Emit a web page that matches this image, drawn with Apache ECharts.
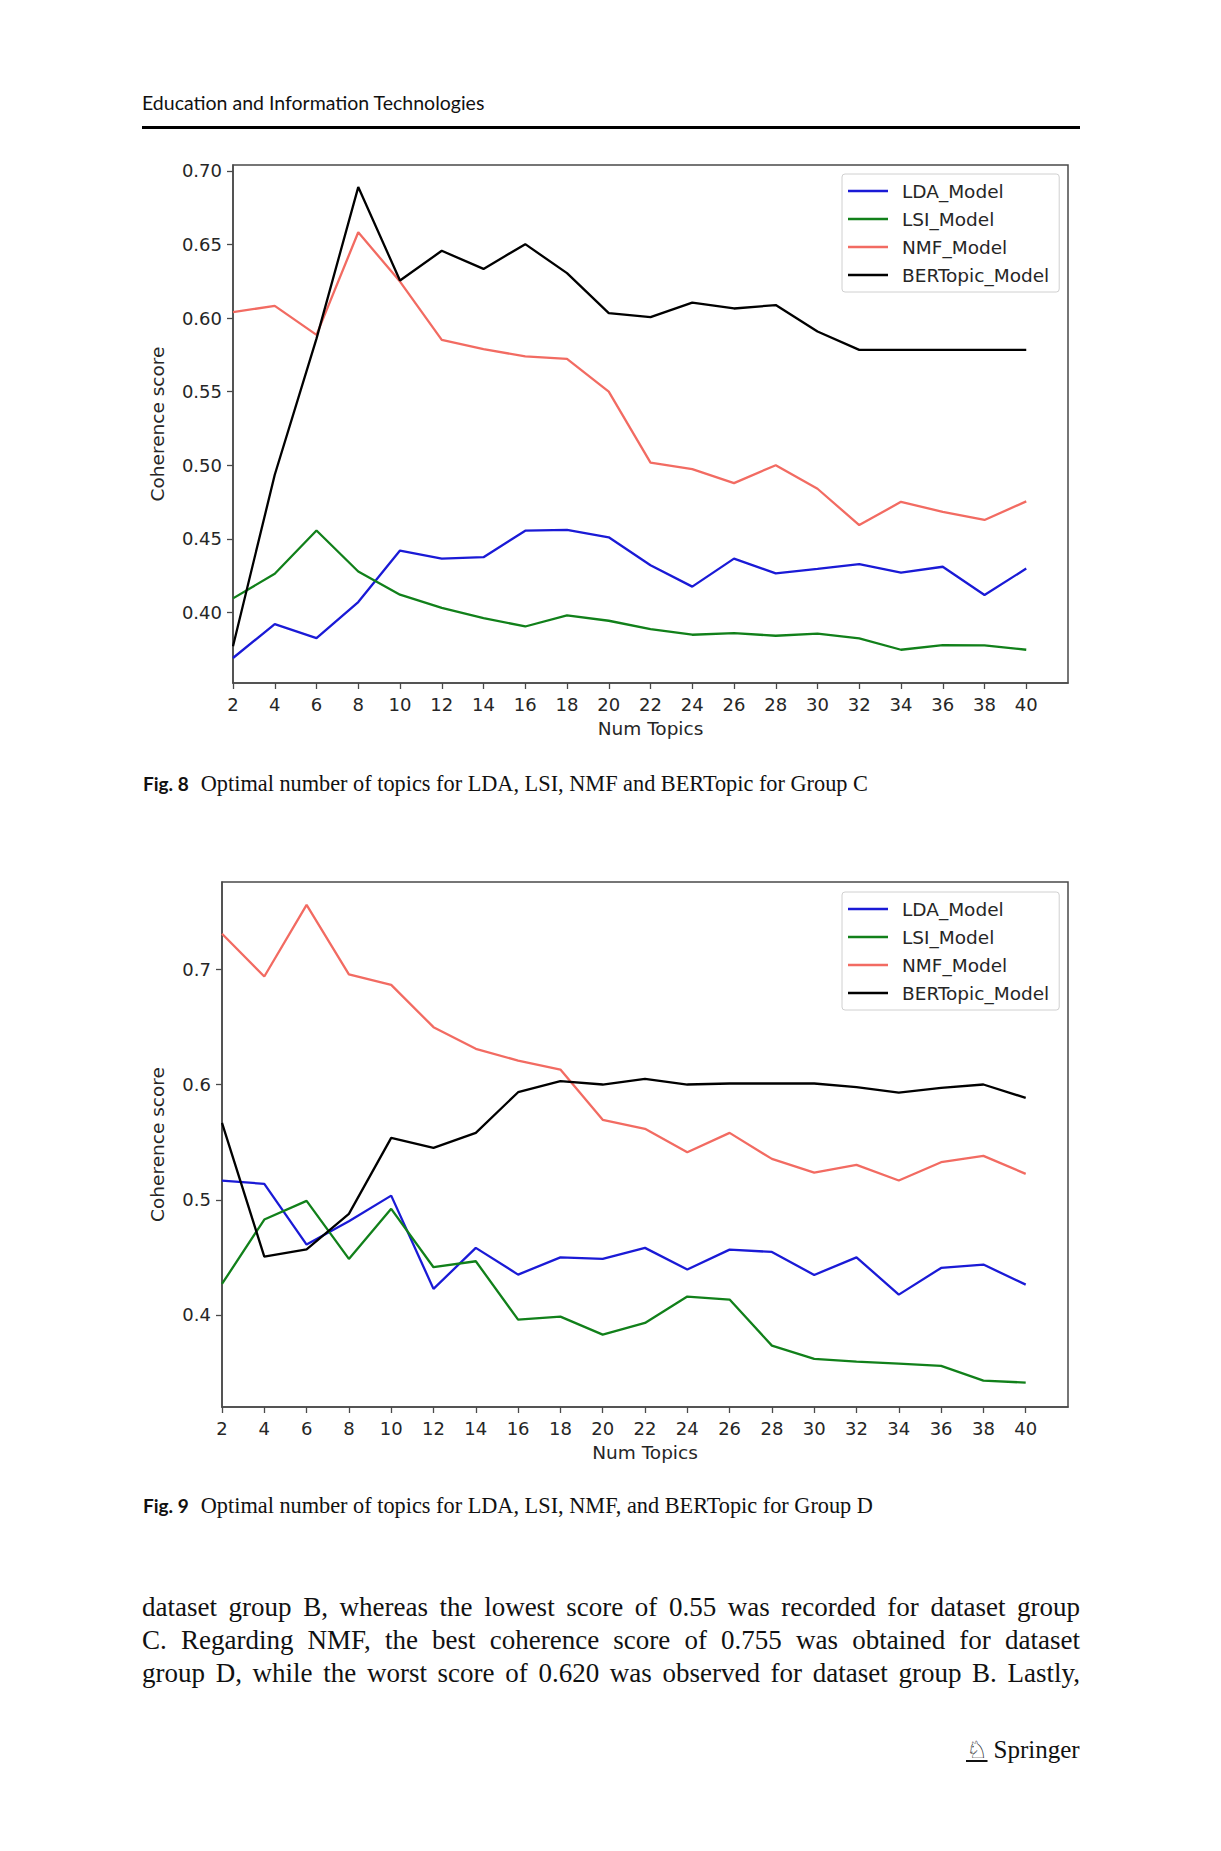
<!DOCTYPE html>
<html>
<head>
<meta charset="utf-8">
<script src="https://cdn.jsdelivr.net/npm/echarts@6/dist/echarts.min.js"></script>
<style>
  html, body { margin: 0; padding: 0; background: #fff; }
  #page { position: relative; width: 1221px; height: 1851px; overflow: hidden; background: #fff; }
  #chart { position: absolute; left: 0; top: 0; width: 1221px; height: 1851px; }
  .t { position: absolute; white-space: nowrap; color: #111; }
  .hdr { left: 142px; top: 91px; font-family: Lato, 'Open Sans', sans-serif; font-size: 19.5px; line-height: 24px; }
  .rule { position: absolute; left: 142px; top: 126px; width: 938px; height: 3px; background: #000; }
  .cap { left: 143px; font-family: 'Liberation Serif', 'DejaVu Serif', serif; font-size: 22.3px; line-height: 26px; }
  .cap b { font-family: Lato, 'Open Sans', sans-serif; font-weight: 700; font-size: 19px; margin-right: 12px; }
  .body { left: 142px; width: 938px; font-family: 'Liberation Serif', 'DejaVu Serif', serif; font-size: 27px; line-height: 32px; text-align: justify; text-align-last: justify; white-space: normal; }
  .spr { left: 966px; top: 1734px; font-family: 'Liberation Serif', serif; font-size: 25px; line-height: 32px; }
  .spr span.logo { font-family: 'DejaVu Sans', sans-serif; font-size: 24px; text-decoration: underline; margin-right: 6px; }
</style>
</head>
<body>
<div id="page">
  <div id="chart"></div>
  <div class="t hdr">Education and Information Technologies</div>
  <div class="rule"></div>
  <div class="t cap" style="top:771px;"><b>Fig. 8</b>Optimal number of topics for LDA, LSI, NMF and BERTopic for Group C</div>
  <div class="t cap" style="top:1493px;"><b>Fig. 9</b>Optimal number of topics for LDA, LSI, NMF, and BERTopic for Group D</div>
  <div class="t body" style="top:1591px;">dataset group B, whereas the lowest score of 0.55 was recorded for dataset group</div>
  <div class="t body" style="top:1624px;">C. Regarding NMF, the best coherence score of 0.755 was obtained for dataset</div>
  <div class="t body" style="top:1657px;">group D, while the worst score of 0.620 was observed for dataset group B. Lastly,</div>
  <div class="t spr"><span class="logo">♘</span>Springer</div>
</div>
<script>
// ---- data ----
const numTopics = [2, 4, 6, 8, 10, 12, 14, 16, 18, 20, 22, 24, 26, 28, 30, 32, 34, 36, 38, 40];
const seriesNames = ['LDA_Model', 'LSI_Model', 'NMF_Model', 'BERTopic_Model'];

// Fig. 8 (Group C)
const ldaC = [0.369, 0.392, 0.3825, 0.407, 0.442, 0.4365, 0.4375, 0.4555, 0.456, 0.451, 0.432, 0.4175, 0.4365, 0.4265, 0.4295, 0.4328, 0.427, 0.431, 0.4118, 0.4298];
const lsiC = [0.4095, 0.4262, 0.4556, 0.4278, 0.412, 0.403, 0.3961, 0.3904, 0.398, 0.3943, 0.3886, 0.3848, 0.3859, 0.3841, 0.3855, 0.3823, 0.3746, 0.3778, 0.3775, 0.3746];
const nmfC = [0.604, 0.6083, 0.5886, 0.6583, 0.6248, 0.5852, 0.5789, 0.5739, 0.5723, 0.550, 0.5018, 0.4973, 0.4878, 0.500, 0.484, 0.4593, 0.4751, 0.4683, 0.4628, 0.4754];
const berC = [0.377, 0.4935, 0.586, 0.689, 0.6255, 0.6457, 0.6334, 0.6502, 0.6305, 0.6033, 0.6006, 0.6105, 0.6065, 0.6088, 0.5909, 0.5784, 0.5784, 0.5784, 0.5784, 0.5784];

// Fig. 9 (Group D)
const ldaD = [0.5167, 0.5138, 0.4611, 0.4813, 0.5036, 0.4226, 0.4582, 0.435, 0.45, 0.4486, 0.4582, 0.4394, 0.4567, 0.4547, 0.4347, 0.45, 0.4176, 0.4408, 0.4437, 0.4263];
const lsiD = [0.4269, 0.4828, 0.499, 0.4486, 0.4921, 0.4414, 0.4466, 0.3959, 0.3985, 0.3829, 0.393, 0.4159, 0.4133, 0.3733, 0.3618, 0.3594, 0.3577, 0.3557, 0.3429, 0.3412];
const nmfD = [0.731, 0.6939, 0.7562, 0.6957, 0.6867, 0.6499, 0.6311, 0.6209, 0.6131, 0.5694, 0.5616, 0.5413, 0.5581, 0.5355, 0.5236, 0.5303, 0.5167, 0.5326, 0.5381, 0.5225];
const berD = [0.5668, 0.4506, 0.457, 0.4877, 0.5538, 0.5451, 0.5581, 0.5934, 0.603, 0.6001, 0.605, 0.6001, 0.601, 0.601, 0.601, 0.5978, 0.5931, 0.5972, 0.6001, 0.5885];

const yTicksC = [0.40, 0.45, 0.50, 0.55, 0.60, 0.65, 0.70];
const yTicksD = [0.4, 0.5, 0.6, 0.7];

// ---- styling ----
const colors = ['#1a1ad6', '#11801a', '#f26b62', '#000000'];
const FONT = "'DejaVu Sans', sans-serif";
const TXT = '#262626';
const AX = '#4a4a4a';

function pairs(vals) { return numTopics.map((x, i) => [x, vals[i]]); }

function xAxisCfg(gi) {
  return {
    type: 'value', gridIndex: gi, min: 2, max: 42,
    name: 'Num Topics', nameLocation: 'middle', nameGap: 36,
    nameTextStyle: { fontFamily: FONT, fontSize: 18.5, color: TXT },
    axisLine: { show: true, lineStyle: { color: AX, width: 1.5 } },
    axisTick: { show: true, length: 6, lineStyle: { color: AX, width: 1.3 }, customValues: numTopics },
    axisLabel: { show: true, margin: 12, fontFamily: FONT, fontSize: 18, color: TXT, customValues: numTopics },
    splitLine: { show: false }
  };
}
function yAxisCfg(gi, min, max, ticks, dec, gap) {
  return {
    type: 'value', gridIndex: gi, min: min, max: max,
    name: 'Coherence score', nameLocation: 'middle', nameGap: gap, nameRotate: 90,
    nameTextStyle: { fontFamily: FONT, fontSize: 18.5, color: TXT },
    axisLine: { show: true, lineStyle: { color: AX, width: 1.5 } },
    axisTick: { show: true, length: 6, lineStyle: { color: AX, width: 1.3 }, customValues: ticks },
    axisLabel: { show: true, margin: 11, fontFamily: FONT, fontSize: 18, color: TXT, customValues: ticks,
      formatter: v => Number(v).toFixed(dec) },
    splitLine: { show: false }
  };
}
function legendCfg(top) {
  return {
    show: true, orient: 'vertical', left: 842, top: top,
    data: seriesNames,
    icon: 'rect', itemWidth: 40, itemHeight: 2.5, itemGap: 8,
    padding: [7, 10, 7, 6],
    backgroundColor: '#ffffff', borderColor: '#d0d0d0', borderWidth: 1, borderRadius: 3,
    textStyle: { fontFamily: FONT, fontSize: 18.5, color: TXT, lineHeight: 20, padding: [0, 0, 0, 9] }
  };
}
function lineSeries(name, vals, gi, ci) {
  return {
    type: 'line', name: name, xAxisIndex: gi, yAxisIndex: gi,
    data: pairs(vals), symbol: 'none', showSymbol: false, silent: true, animation: false,
    lineStyle: { color: colors[ci], width: 2.3 }, itemStyle: { color: colors[ci] }
  };
}

const chart = echarts.init(document.getElementById('chart'), null, { renderer: 'svg', width: 1221, height: 1851 });
chart.setOption({
  animation: false,
  backgroundColor: 'transparent',
  color: colors,
  grid: [
    { left: 233, top: 165, width: 835, height: 518, show: true, borderColor: AX, borderWidth: 1.5, backgroundColor: 'transparent' },
    { left: 222, top: 882, width: 846, height: 525, show: true, borderColor: AX, borderWidth: 1.5, backgroundColor: 'transparent' }
  ],
  xAxis: [xAxisCfg(0), xAxisCfg(1)],
  yAxis: [yAxisCfg(0, 0.352, 0.704, yTicksC, 2, 66), yAxisCfg(1, 0.32, 0.776, yTicksD, 1, 55)],
  legend: [legendCfg(174), legendCfg(892)],
  series: [
    lineSeries('LDA_Model', ldaC, 0, 0),
    lineSeries('LSI_Model', lsiC, 0, 1),
    lineSeries('NMF_Model', nmfC, 0, 2),
    lineSeries('BERTopic_Model', berC, 0, 3),
    lineSeries('LDA_Model', ldaD, 1, 0),
    lineSeries('LSI_Model', lsiD, 1, 1),
    lineSeries('NMF_Model', nmfD, 1, 2),
    lineSeries('BERTopic_Model', berD, 1, 3)
  ]
});
</script>
</body>
</html>
